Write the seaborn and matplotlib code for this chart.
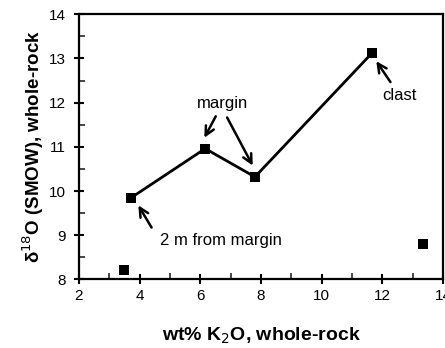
import matplotlib
matplotlib.use("Agg")
import matplotlib.pyplot as plt
from matplotlib.ticker import MultipleLocator
import pandas as pd
import seaborn as sns

# whole-rock samples
k2o = [3.47, 3.70, 6.16, 7.80, 11.67, 13.35]
d18o = [8.21, 9.84, 10.96, 10.32, 13.13, 8.80]
on_trend = [False, True, True, True, True, False]

samples = pd.DataFrame({"k2o": k2o, "d18o": d18o, "trend": on_trend})
trend = samples[samples.trend]

sns.set_style("ticks")
plt.rcParams["font.family"] = ["Liberation Sans", "DejaVu Sans"]
plt.rcParams["text.color"] = "black"
plt.rcParams["axes.labelcolor"] = "black"

fig = plt.figure(figsize=(4.45, 3.48), dpi=100)
ax = fig.add_axes([0.1775, 0.197, 0.818, 0.762])

sns.lineplot(x="k2o", y="d18o", data=trend, ax=ax, color="black",
             linewidth=2, sort=False, estimator=None)
sns.scatterplot(x="k2o", y="d18o", data=samples, ax=ax, color="black",
                marker="s", s=42, linewidth=0, zorder=3)

ax.set_xlim(2, 14)
ax.set_ylim(8, 14)
ax.xaxis.set_major_locator(MultipleLocator(2))
ax.xaxis.set_minor_locator(MultipleLocator(1))
ax.yaxis.set_major_locator(MultipleLocator(1))
ax.yaxis.set_minor_locator(MultipleLocator(0.5))
ax.tick_params(which="major", direction="inout", length=7, width=1.5,
               labelsize=11, colors="black")
ax.tick_params(axis="y", which="major", pad=6)
ax.tick_params(which="minor", direction="in", length=4, width=1.2)
for spine in ax.spines.values():
    spine.set_linewidth(1.6)
    spine.set_color("black")

ax.set_xlabel("wt% K$_2$O, whole-rock", fontsize=14, fontweight="bold", labelpad=16)
ax.set_ylabel("δ$^{18}$O (SMOW), whole-rock", fontsize=13.5,
              fontweight="bold", labelpad=2)

arrow = dict(arrowstyle="->", color="black", lw=1.8, mutation_scale=16)
ax.annotate("margin", xy=(6.09, 11.15), xytext=(6.74, 11.99), ha="center",
            va="center", fontsize=12, arrowprops=arrow)
ax.annotate("", xy=(7.77, 10.52), xytext=(6.84, 11.72), arrowprops=arrow)
ax.annotate("clast", xy=(11.75, 12.99), xytext=(12.56, 12.17), ha="center",
            va="center", fontsize=12, arrowprops=arrow)
ax.annotate("2 m from margin", xy=(3.91, 9.73), xytext=(6.68, 8.89),
            ha="center", va="center", fontsize=12)
ax.annotate("", xy=(3.91, 9.73), xytext=(4.44, 9.12), arrowprops=arrow)

fig.savefig("out.png", dpi=100)
